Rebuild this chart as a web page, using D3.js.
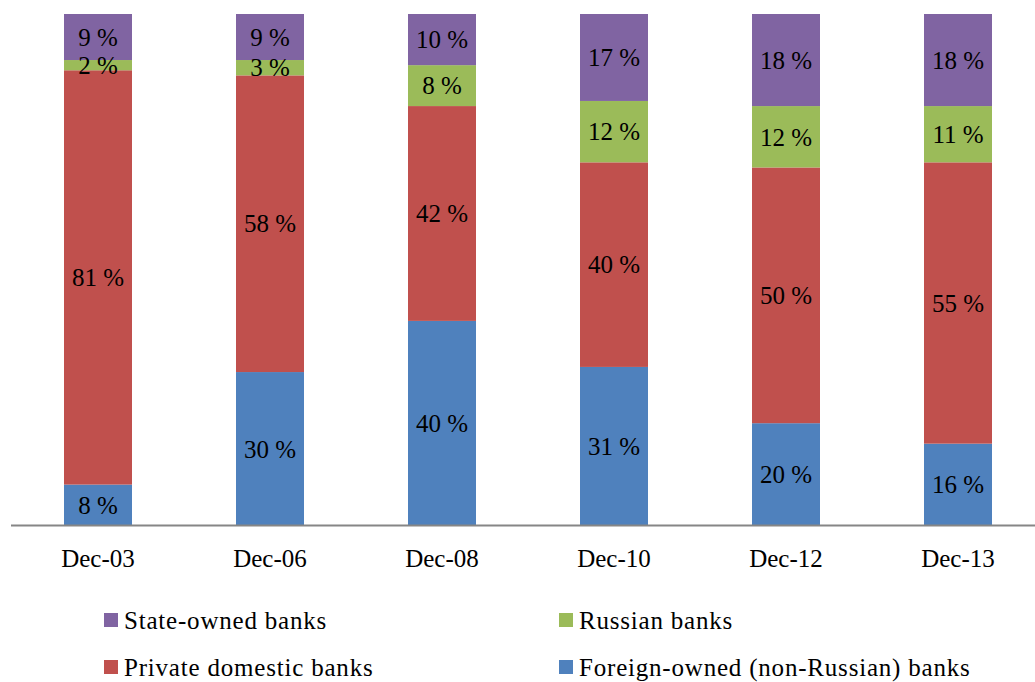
<!DOCTYPE html>
<html><head><meta charset="utf-8">
<script src="https://cdn.jsdelivr.net/npm/d3@7"></script>
<style>body{margin:0;background:#fff}svg{display:block}text{font-family:"Liberation Serif","Times New Roman",serif}</style>
</head><body><svg id="c" width="1035" height="682"></svg>
<script>
const categories = ["Dec-03","Dec-06","Dec-08","Dec-10","Dec-12","Dec-13"];
const foreignOwned = [8,30,40,31,20,16];
const privateDomestic = [81,58,42,40,50,55];
const russian = [2,3,8,12,12,11];
const stateOwned = [9,9,10,17,18,18];
const seriesNames = ["Foreign-owned (non-Russian) banks","Private domestic banks","Russian banks","State-owned banks"];
const colors = ["#4F81BD","#C0504D","#9BBB59","#8064A2"];

const svg = d3.select("#c");
const x = d3.scaleBand().domain(categories).range([12, 1044]).padding(0);
const barW = 68;
const y = d3.scaleLinear().domain([0,100]).range([525.5, 14]);

const seriesVals = [foreignOwned, privateDomestic, russian, stateOwned];
const rows = categories.map((c,i)=>{const r={cat:c}; seriesNames.forEach((s,k)=>r[s]=seriesVals[k][i]); return r;});
const stack = d3.stack().keys(seriesNames)(rows);

const g = svg.append("g");
stack.forEach((layer,k)=>{
  const lg = g.append("g").attr("fill", colors[k]);
  lg.selectAll("rect").data(layer).join("rect")
    .attr("x", d=>x(d.data.cat)+x.bandwidth()/2-barW/2)
    .attr("width", barW)
    .attr("y", d=>y(d[1]))
    .attr("height", d=>y(d[0])-y(d[1]));
});
stack.forEach((layer,k)=>{
  g.append("g").selectAll("text").data(layer).join("text")
    .attr("x", d=>x(d.data.cat)+x.bandwidth()/2)
    .attr("y", d=>(y(d[0])+y(d[1]))/2)
    .attr("dy","0.35em")
    .attr("text-anchor","middle")
    .attr("font-size",25)
    .attr("fill","#000")
    .text(d=>(d[1]-d[0])+" %");
});

// baseline
svg.append("line").attr("x1",11).attr("x2",1035).attr("y1",y(0)).attr("y2",y(0))
  .attr("stroke","#868686").attr("stroke-width",2);

// x axis labels
const xAxis = d3.axisBottom(x).tickSize(0).tickPadding(0);
const ax = svg.append("g").attr("transform",`translate(0,${y(0)})`).call(xAxis);
ax.select(".domain").remove();
ax.selectAll("text").attr("font-size",25).attr("fill","#000").attr("y",33).attr("dy","0.35em")
  .style("font-family",'"Liberation Serif","Times New Roman",serif');

// legend
const legend = [
  {name:"State-owned banks", c:colors[3], x:104, y:620},
  {name:"Russian banks", c:colors[2], x:559, y:620},
  {name:"Private domestic banks", c:colors[1], x:104, y:667},
  {name:"Foreign-owned (non-Russian) banks", c:colors[0], x:559, y:667}
];
const lg = svg.append("g").selectAll("g").data(legend).join("g")
  .attr("transform", d=>`translate(${d.x},${d.y})`);
lg.append("rect").attr("x",0).attr("y",-7).attr("width",14).attr("height",14).attr("fill",d=>d.c);
lg.append("text").attr("x",20).attr("dy","0.35em").attr("font-size",25).attr("letter-spacing","0.8px")
  .attr("fill","#000").text(d=>d.name);
</script></body></html>
